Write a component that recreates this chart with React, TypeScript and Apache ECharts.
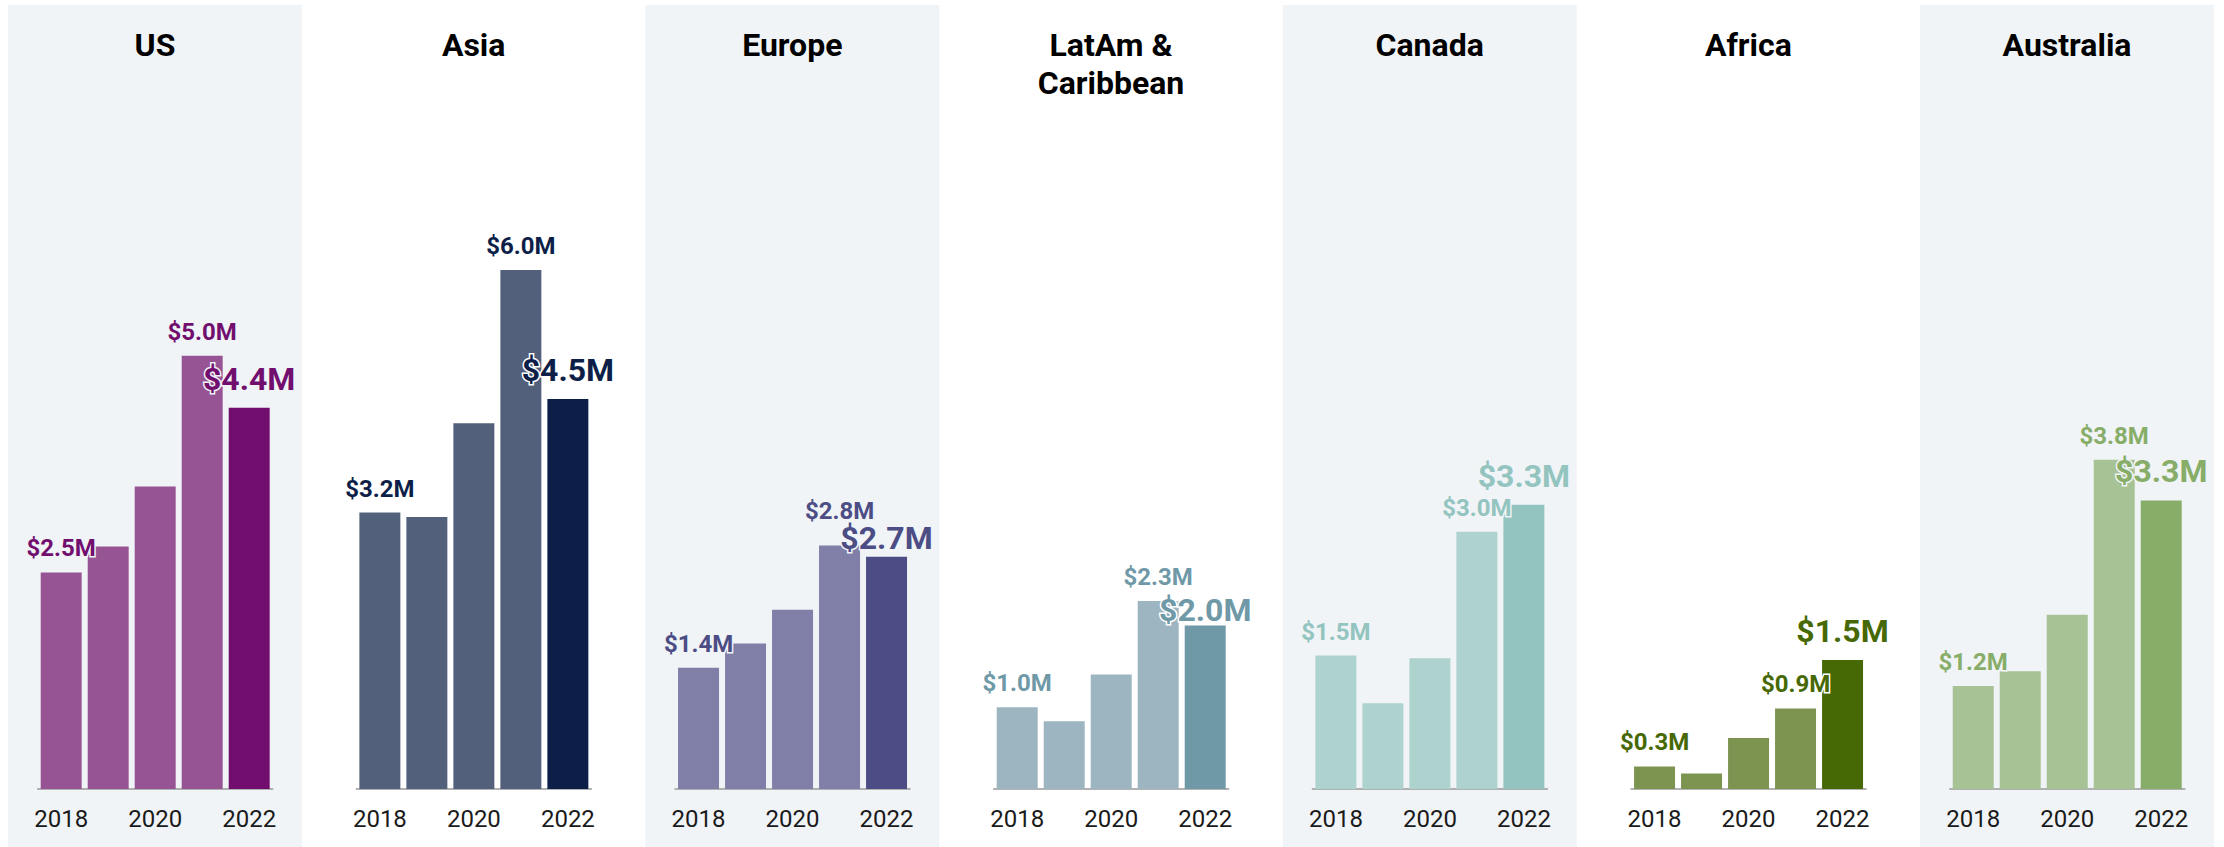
import React, { useEffect, useRef } from "react";
import * as echarts from "echarts";

const years = ["2018", "2019", "2020", "2021", "2022"];
const regionNames = ["US", "Asia", "Europe", "LatAm &\nCaribbean", "Canada", "Africa", "Australia"];

const usValues = [2.5, 2.8, 3.49, 5.0, 4.4];
const asiaValues = [3.19, 3.14, 4.22, 5.99, 4.5];
const europeValues = [1.4, 1.68, 2.07, 2.81, 2.68];
const latamValues = [1.0, 0.83, 1.4, 2.3, 2.0];
const canadaValues = [1.54, 0.99, 1.51, 2.97, 3.28];
const africaValues = [0.26, 0.18, 0.59, 0.93, 1.49];
const australiaValues = [1.19, 1.36, 2.01, 3.8, 3.33];

const allValues = [usValues, asiaValues, europeValues, latamValues, canadaValues, africaValues, australiaValues];

const lightColors = ["#975495", "#52607c", "#7f7fa8", "#9cb5c1", "#aed2ce", "#7c9450", "#a7c294"];
const darkColors = ["#720f6e", "#0d1f48", "#4d4d85", "#7099a8", "#93c4bf", "#466805", "#87ad68"];

const labeledIdx = [0, 3, 4];

// vertical nudges (px) applied to the 2021 / 2022 labels to keep them apart
const peakLabelNudge = [0, 0, -11, 0, 0, 0, 0];
const lastLabelNudge = [0, 0, 10, 13, 0, 0, 0];

export default function App() {
  const ref = useRef<HTMLDivElement>(null);

  useEffect(() => {
    if (!ref.current) return;
    const chart = echarts.init(ref.current, null, { renderer: "svg" });

    const H = 847;
    const panelX0 = 8;
    const panelStep = 318.67;
    const panelW = 294;
    const shadeColor = "#f0f4f7";
    const baseline = 789;
    const pxPerM = 86.65;
    const yMax = 8;

    const graphic: any[] = [];
    const grids: any[] = [];
    const xAxes: any[] = [];
    const yAxes: any[] = [];
    const series: any[] = [];

    regionNames.forEach((name, i) => {
      const px = panelX0 + i * panelStep;
      const shaded = i % 2 === 0;
      const bg = shaded ? shadeColor : "#ffffff";
      if (shaded) {
        graphic.push({
          type: "rect",
          shape: { x: px, y: 5, width: panelW, height: H - 5 },
          style: { fill: shadeColor },
          z: -10,
          silent: true,
        });
      }
      graphic.push({
        type: "text",
        x: px + panelW / 2,
        y: 26,
        style: {
          text: name,
          fill: "#000000",
          fontFamily: "Roboto",
          fontWeight: "bold",
          fontSize: 32,
          lineHeight: 38,
          textAlign: "center",
          textVerticalAlign: "top",
        },
        z: 10,
      });

      const twoLine = name.includes("\n");
      const plotH = twoLine ? 654 : yMax * pxPerM;
      grids.push({
        left: px + 29.7,
        width: 235,
        top: baseline - plotH,
        height: plotH,
        containLabel: false,
      });
      xAxes.push({
        type: "category",
        gridIndex: i,
        data: years,
        boundaryGap: true,
        axisTick: { show: false },
        axisLine: { show: true, lineStyle: { color: "#999999", width: 1.5 } },
        axisLabel: {
          interval: 1,
          color: "#1a1a1a",
          fontFamily: "Roboto",
          fontSize: 24,
          margin: 18,
        },
      });
      yAxes.push({
        type: "value",
        gridIndex: i,
        min: 0,
        max: yMax,
        show: false,
        splitLine: { show: false },
      });

      const vals = allValues[i];
      series.push({
        type: "bar",
        xAxisIndex: i,
        yAxisIndex: i,
        barCategoryGap: "12.8%",
        data: vals.map((v, j) => {
          const isLast = j === vals.length - 1;
          const show = labeledIdx.includes(j);
          const dy = isLast ? lastLabelNudge[i] : j === 3 ? peakLabelNudge[i] : 0;
          return {
            value: v,
            itemStyle: { color: isLast ? darkColors[i] : lightColors[i] },
            label: {
              show,
              position: "top",
              distance: isLast ? 13 : 12,
              offset: [0, dy],
              formatter: () => `$${v.toFixed(1)}M`,
              color: darkColors[i],
              fontFamily: "Roboto",
              fontWeight: "bold",
              fontSize: isLast ? 32 : 24,
              textBorderColor: bg,
              textBorderWidth: 3,
            },
          };
        }),
      });
    });

    chart.setOption({
      animation: false,
      backgroundColor: "#ffffff",
      graphic,
      grid: grids,
      xAxis: xAxes,
      yAxis: yAxes,
      series,
    });

    return () => chart.dispose();
  }, []);

  return (
    <div
      ref={ref}
      style={{ position: "fixed", left: 0, top: 0, width: 2224, height: 847 }}
    />
  );
}
